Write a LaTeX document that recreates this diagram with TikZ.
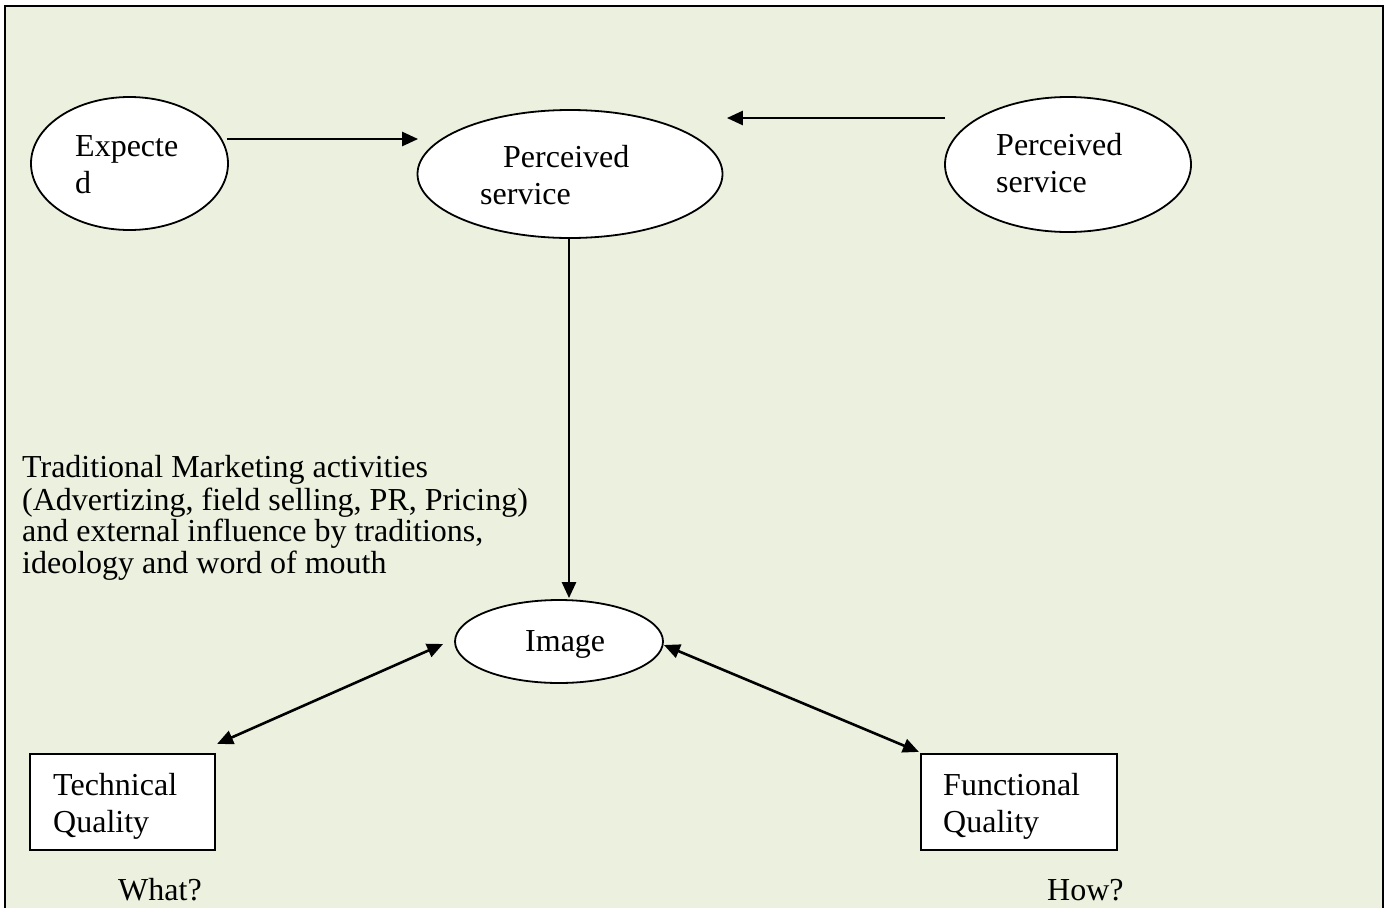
\documentclass[tikz,border=0pt]{standalone}
\usepackage{fontspec}
\setmainfont{Liberation Serif}
\usetikzlibrary{shapes.geometric,arrows.meta}
\definecolor{bggreen}{HTML}{EBF1DE}
\tikzset{
  oval/.style={ellipse, draw, line width=1.8pt, fill=white, inner sep=0pt},
  qbox/.style={rectangle, draw, line width=2.2pt, fill=white, inner sep=0pt},
  lbl/.style={anchor=north west, inner sep=0pt, align=left, font=\fontsize{32}{37}\selectfont},
  lblt/.style={anchor=north west, inner sep=0pt, align=left, font=\fontsize{32}{31.5}\selectfont},
  arr/.style={line width=2.6pt, -{Triangle[length=16pt,width=14pt]}},
  darr/.style={line width=2.6pt, {Triangle[length=16pt,width=14pt]}-{Triangle[length=16pt,width=14pt]}},
}
\begin{document}
\begin{tikzpicture}[x=1pt,y=-1pt]
\useasboundingbox (0,0) rectangle (1387,908);
\fill[bggreen] (5,6) rectangle (1383,908);
\draw[line width=2.4pt] (5,908) -- (5,6) -- (1383,6) -- (1383,908);

% shapes
\node[oval, minimum width=197pt, minimum height=133pt] (exp) at (129.5,163.5) {};
\node[oval, minimum width=305pt, minimum height=128pt] (ps) at (570,174) {};
\node[oval, minimum width=246pt, minimum height=135pt] (pr) at (1068,164.5) {};
\node[oval, minimum width=208pt, minimum height=83pt] (img) at (559,641.5) {};
\node[qbox, minimum width=185pt, minimum height=96pt] (tech) at (122.5,802) {};
\node[qbox, minimum width=196pt, minimum height=96pt] (func) at (1019,802) {};

% texts (top = first baseline - 0.7*baselineskip)
\node[lbl] (expt) at (75,130.1) {\strut Expecte\\d};
\node[lbl] (pst) at (480,141.1) {\strut\hspace{23pt}Perceived\\service};
\node[lbl] (prt) at (996,129.1) {\strut Perceived\\service};
\node[lbl] (imgt) at (525,625.1) {\strut Image};
\node[lbl] (techt) at (53,769.1) {\strut Technical\\Quality};
\node[lbl] (funct) at (943,769.1) {\strut Functional\\Quality};
\node[lbl] (what) at (118,874.1) {\strut What?};
\node[lbl] (how) at (1047,874.1) {\strut How?};
\node[lblt] (trad) at (22,455) {\strut Traditional Marketing activities\\(Advertizing, field selling, PR, Pricing)\\and external influence by traditions,\\ideology and word of mouth};

% connectors
\draw[arr] ([shift={(-2,-24.5)}]exp.east) -- ([shift={(1.5,-35)}]ps.west);
\draw[arr] ([shift={(1,-46.5)}]pr.west) -- ([shift={(3.5,-56)}]ps.east);
\draw[arr] ([shift={(-1,0)}]ps.south) -- ([shift={(10,-1)}]img.north);
\draw[darr] ([shift={(-11,2.5)}]img.west) -- ([shift={(1,-9)}]tech.north east);
\draw[darr] ([shift={(0,3.5)}]img.east) -- ([shift={(-1,-1)}]func.north west);
\end{tikzpicture}
\end{document}
